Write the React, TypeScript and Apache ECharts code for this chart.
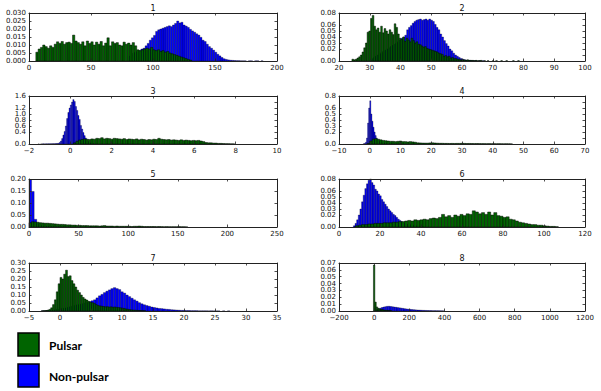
import React, { useEffect, useRef } from "react";
import * as echarts from "echarts";

// ---- panel axes ----
const titles = ["1", "2", "3", "4", "5", "6", "7", "8"];
const xMins = [0, 20, -2, -10, 0, 0, -5, -200];
const xMaxs = [200, 100, 10, 70, 250, 120, 35, 1200];
const xSteps = [50, 10, 2, 10, 50, 20, 5, 200];
const yMaxs = [0.03, 0.08, 1.6, 0.8, 0.2, 0.08, 0.3, 0.07];
const ySteps = [0.005, 0.01, 0.2, 0.1, 0.05, 0.01, 0.05, 0.01];
const yDecimals = [3, 2, 1, 1, 2, 2, 2, 2];

// ---- histograms: [first bin edge, bin width] and bin heights ----
const pulsar1Bins = [5.5, 1.85];
const pulsar1 = [0.0055, 0.0075, 0.0085, 0.01, 0.009, 0.008, 0.0095, 0.0085, 0.0105, 0.012, 0.011, 0.0122, 0.0105, 0.0115, 0.0118, 0.011, 0.0162, 0.0125, 0.0115, 0.0105, 0.012, 0.0095, 0.0125, 0.011, 0.012, 0.01, 0.0118, 0.0105, 0.0122, 0.0095, 0.0112, 0.0145, 0.0095, 0.012, 0.011, 0.0115, 0.01, 0.0095, 0.0118, 0.0105, 0.0112, 0.01, 0.0115, 0.0095, 0.007, 0.0065, 0.007, 0.0075, 0.008, 0.0075, 0.0085, 0.007, 0.0065, 0.007, 0.006, 0.0065, 0.0055, 0.006, 0.005, 0.0045, 0.004, 0.0035, 0.003, 0.0025, 0.002, 0.0015, 0.001, 0.0005];
const nonPulsar1Bins = [80, 1.7];
const nonPulsar1 = [0.003, 0.004, 0.005, 0.0055, 0.006, 0.0065, 0.0075, 0.008, 0.0095, 0.011, 0.013, 0.0145, 0.016, 0.0185, 0.0195, 0.02, 0.0205, 0.021, 0.0215, 0.022, 0.0215, 0.0225, 0.0235, 0.025, 0.0238, 0.0242, 0.0225, 0.0218, 0.021, 0.0198, 0.0188, 0.018, 0.017, 0.0162, 0.0148, 0.013, 0.0122, 0.0105, 0.009, 0.008, 0.0068, 0.0055, 0.0042, 0.0032, 0.0022, 0.0014, 0.001, 0.0007, 0.0005, 0.0004, 0.0003, 0.0002, 0.0002, 0.0001, 0.0001, 0.0001, 0, 0.0001, 0.0001, 0, 0.0001, 0.0001, 0, 0.0001];

const pulsar2Bins = [24.2, 0.55];
const pulsar2 = [0.003, 0.002, 0.003, 0.005, 0.007, 0.01, 0.015, 0.022, 0.03, 0.048, 0.05, 0.071, 0.076, 0.058, 0.052, 0.055, 0.048, 0.058, 0.047, 0.054, 0.05, 0.045, 0.052, 0.048, 0.044, 0.062, 0.056, 0.045, 0.038, 0.036, 0.04, 0.033, 0.038, 0.035, 0.032, 0.038, 0.034, 0.03, 0.032, 0.028, 0.027, 0.025, 0.023, 0.024, 0.021, 0.02, 0.019, 0.018, 0.017, 0.016, 0.015, 0.013, 0.012, 0.011, 0.008, 0.009, 0.007, 0.008, 0.005, 0.006, 0.004, 0.004, 0.003, 0.003, 0.002, 0.002, 0.002, 0.001, 0.002, 0.001, 0.001, 0.001, 0.0005, 0.001, 0.0005, 0.0005, 0.001, 0, 0.0005, 0, 0.0005, 0, 0, 0.0005, 0, 0.0005, 0, 0, 0.0005, 0, 0, 0.0005, 0, 0, 0, 0.0005, 0, 0, 0.0005];
const nonPulsar2Bins = [30, 0.6];
const nonPulsar2 = [0.002, 0.004, 0.006, 0.008, 0.01, 0.012, 0.014, 0.016, 0.018, 0.02, 0.022, 0.024, 0.026, 0.028, 0.03, 0.032, 0.035, 0.038, 0.04, 0.043, 0.052, 0.056, 0.059, 0.063, 0.066, 0.068, 0.069, 0.07, 0.068, 0.069, 0.07, 0.068, 0.07, 0.068, 0.066, 0.061, 0.056, 0.052, 0.045, 0.04, 0.034, 0.029, 0.025, 0.02, 0.017, 0.013, 0.01, 0.008, 0.006, 0.004, 0.003, 0.002, 0.0015, 0.001, 0.001, 0.0005, 0.0005, 0.0005, 0, 0.0005, 0, 0.0005];

const pulsar3Bins = [0.15, 0.12];
const pulsar3 = [0.04, 0.09, 0.13, 0.15, 0.17, 0.16, 0.15, 0.17, 0.16, 0.19, 0.18, 0.21, 0.17, 0.19, 0.18, 0.16, 0.19, 0.18, 0.17, 0.16, 0.18, 0.15, 0.17, 0.16, 0.15, 0.17, 0.14, 0.16, 0.15, 0.13, 0.15, 0.14, 0.16, 0.15, 0.19, 0.16, 0.15, 0.14, 0.15, 0.13, 0.14, 0.13, 0.12, 0.14, 0.12, 0.13, 0.12, 0.11, 0.12, 0.11, 0.12, 0.1, 0.08, 0.05, 0.04, 0.04, 0.03, 0.03, 0.02, 0.02, 0.015, 0.01, 0.01, 0.005, 0.005];
const nonPulsar3Bins = [-1.56, 0.06];
const nonPulsar3 = [0.003, 0, 0.004, 0.003, 0.005, 0.004, 0.006, 0.005, 0.007, 0.006, 0.008, 0.01, 0.01, 0.012, 0.015, 0.018, 0.02, 0.05, 0.1, 0.18, 0.3, 0.42, 0.6, 0.85, 1.05, 1.2, 1.3, 1.4, 1.48, 1.42, 1.25, 1.12, 0.95, 0.82, 0.62, 0.5, 0.38, 0.28, 0.2, 0.13, 0.08, 0.05, 0.03, 0.02, 0.01, 0.01];

const pulsar4Bins = [-0.8, 0.8];
const pulsar4 = [0.01, 0.05, 0.08, 0.09, 0.08, 0.07, 0.06, 0.055, 0.05, 0.045, 0.045, 0.04, 0.045, 0.05, 0.04, 0.04, 0.035, 0.04, 0.035, 0.03, 0.02, 0.018, 0.016, 0.015, 0.015, 0.018, 0.02, 0.017, 0.014, 0.012, 0.012, 0.01, 0.01, 0.009, 0.01, 0.009, 0.01, 0.01, 0.012, 0.01, 0.008, 0.009, 0.008, 0.007, 0.008, 0.007, 0.006, 0.006, 0.005, 0.006, 0.005, 0.005, 0.004, 0.005, 0.004, 0.003, 0.004, 0.003, 0.002];
const nonPulsar4Bins = [-2.1, 0.35];
const nonPulsar4 = [0.005, 0.01, 0.03, 0.1, 0.35, 0.6, 0.72, 0.5, 0.38, 0.28, 0.2, 0.14, 0.1, 0.07, 0.05, 0.035, 0.025, 0.02, 0.015, 0.012, 0.01, 0.008, 0.006, 0.005, 0.004, 0.003, 0.003, 0.002, 0.002, 0.002, 0.001, 0.001, 0.001, 0.001];

const pulsar5Bins = [0, 2.5];
const pulsar5 = [0.018, 0.022, 0.021, 0.02, 0.018, 0.017, 0.016, 0.016, 0.015, 0.014, 0.013, 0.012, 0.011, 0.011, 0.01, 0.009, 0.009, 0.008, 0.008, 0.007, 0.007, 0.006, 0.006, 0.006, 0.005, 0.005, 0.005, 0.005, 0.004, 0.005, 0.006, 0.004, 0.004, 0.004, 0.003, 0.004, 0.003, 0.003, 0.003, 0.003, 0.003, 0.002, 0.003, 0.003, 0.004, 0.003, 0.002, 0.002, 0.002, 0.002, 0.002, 0.0015, 0.002, 0.0015, 0.001, 0.0015, 0.001, 0.001, 0.001, 0.001, 0.0015, 0.001, 0.001, 0.0005];
const nonPulsar5Bins = [0, 2.6];
const nonPulsar5 = [0.198, 0.148, 0.032, 0.012, 0.006, 0.004, 0.003, 0.002, 0.002, 0.0015, 0.001, 0.001, 0.001, 0.0008, 0.0005, 0.0005];

const pulsar6Bins = [8, 1.5];
const pulsar6 = [0.002, 0.003, 0.004, 0.004, 0.005, 0.005, 0.006, 0.006, 0.006, 0.007, 0.007, 0.007, 0.008, 0.008, 0.009, 0.009, 0.01, 0.011, 0.01, 0.012, 0.011, 0.012, 0.013, 0.012, 0.014, 0.015, 0.014, 0.016, 0.021, 0.017, 0.019, 0.016, 0.02, 0.018, 0.021, 0.019, 0.022, 0.021, 0.027, 0.025, 0.022, 0.024, 0.021, 0.025, 0.02, 0.024, 0.019, 0.018, 0.016, 0.017, 0.013, 0.012, 0.01, 0.008, 0.007, 0.006, 0.005, 0.004, 0.004, 0.003, 0.003, 0.002, 0.0015, 0.001, 0.001, 0.0005];
const nonPulsar6Bins = [7, 0.8];
const nonPulsar6 = [0.002, 0.006, 0.012, 0.02, 0.03, 0.042, 0.053, 0.064, 0.072, 0.078, 0.08, 0.074, 0.07, 0.063, 0.06, 0.055, 0.052, 0.046, 0.042, 0.038, 0.034, 0.03, 0.027, 0.024, 0.021, 0.019, 0.016, 0.013, 0.011, 0.009, 0.008, 0.006, 0.005, 0.004, 0.004, 0.003, 0.003, 0.002, 0.002, 0.002, 0.001, 0.001, 0.001];

const pulsar7Bins = [-3, 0.3];
const pulsar7 = [0.001, 0.002, 0.003, 0.005, 0.01, 0.02, 0.04, 0.07, 0.12, 0.17, 0.21, 0.2, 0.23, 0.255, 0.215, 0.22, 0.19, 0.17, 0.15, 0.13, 0.115, 0.1, 0.085, 0.075, 0.068, 0.06, 0.056, 0.052, 0.048, 0.04, 0.035, 0.032, 0.03, 0.028, 0.026, 0.027, 0.025, 0.026, 0.024, 0.025, 0.023, 0.022, 0.02, 0.018, 0.016, 0.013, 0.011, 0.009, 0.007, 0.006, 0.005, 0.004, 0.003, 0.003, 0.002, 0.002];
const nonPulsar7Bins = [-3, 0.4];
const nonPulsar7 = [0.001, 0.001, 0.002, 0.003, 0.005, 0.007, 0.01, 0.013, 0.016, 0.019, 0.022, 0.026, 0.03, 0.034, 0.038, 0.042, 0.046, 0.05, 0.054, 0.058, 0.064, 0.07, 0.082, 0.095, 0.104, 0.115, 0.124, 0.132, 0.14, 0.146, 0.14, 0.134, 0.12, 0.112, 0.1, 0.09, 0.08, 0.07, 0.062, 0.052, 0.045, 0.039, 0.034, 0.03, 0.025, 0.022, 0.019, 0.016, 0.015, 0.013, 0.011, 0.01, 0.008, 0.007, 0.006, 0.005, 0.004, 0.004, 0.003, 0.003, 0.002, 0.002, 0.002, 0.001, 0.001, 0.001, 0.001, 0.0005, 0.001, 0.0005, 0.0005, 0.0005, 0, 0.0005, 0, 0.0005];

const pulsar8Bins = [-4, 8];
const pulsar8 = [0.067, 0.013, 0.006, 0.004, 0.003, 0.0025, 0.002, 0.0015, 0.001, 0.001, 0.0008, 0.0005, 0.0004];
const nonPulsar8Bins = [0, 10];
const nonPulsar8 = [0.001, 0.002, 0.003, 0.004, 0.005, 0.0058, 0.0063, 0.0068, 0.0069, 0.0066, 0.0062, 0.0058, 0.0054, 0.005, 0.0046, 0.0042, 0.0038, 0.0034, 0.003, 0.0027, 0.0024, 0.0021, 0.0019, 0.0017, 0.0015, 0.0013, 0.0012, 0.001, 0.0009, 0.0008, 0.0007, 0.0006, 0.0006, 0.0005, 0.0005, 0.0004, 0.0004, 0.0003, 0.0003, 0.0002];

const pulsarSets = [pulsar1, pulsar2, pulsar3, pulsar4, pulsar5, pulsar6, pulsar7, pulsar8];
const pulsarBinSets = [pulsar1Bins, pulsar2Bins, pulsar3Bins, pulsar4Bins, pulsar5Bins, pulsar6Bins, pulsar7Bins, pulsar8Bins];
const nonPulsarSets = [nonPulsar1, nonPulsar2, nonPulsar3, nonPulsar4, nonPulsar5, nonPulsar6, nonPulsar7, nonPulsar8];
const nonPulsarBinSets = [nonPulsar1Bins, nonPulsar2Bins, nonPulsar3Bins, nonPulsar4Bins, nonPulsar5Bins, nonPulsar6Bins, nonPulsar7Bins, nonPulsar8Bins];

const legendNames = ["Pulsar", "Non-pulsar"];

const GREEN = "#006400";
const BLUE = "#0000ff";

function toBins(values: number[], bins: number[]) {
  const [start, step] = bins;
  const out: number[][] = [];
  values.forEach((v, i) => {
    if (v > 0) out.push([start + i * step, start + (i + 1) * step, v]);
  });
  return out;
}

function fmtX(v: number) {
  return v < 0 ? "\u2212" + Math.abs(v) : String(v);
}

export default function App() {
  const ref = useRef<HTMLDivElement>(null);
  useEffect(() => {
    if (!ref.current) return;
    const chart = echarts.init(ref.current, null, { renderer: "svg" });
    const lefts = [29, 339];
    const widths = [248, 246];
    const tops = [13, 96, 179, 263];
    const H = 48;
    const grids: any[] = [];
    const xAxes: any[] = [];
    const yAxes: any[] = [];
    const series: any[] = [];
    const graphics: any[] = [];
    const font = "DejaVu Sans";
    const lineStyle = { color: "#222", width: 1 };
    for (let k = 0; k < 8; k++) {
      const col = k % 2;
      const row = Math.floor(k / 2);
      grids.push({ left: lefts[col], top: tops[row], width: widths[col], height: H, show: false });
      const xBase = {
        gridIndex: k,
        type: "value",
        min: xMins[k],
        max: xMaxs[k],
        interval: xSteps[k],
        z: 5,
        splitLine: { show: false },
        axisLine: { show: true, onZero: false, lineStyle },
        axisTick: { show: true, inside: true, length: 2.5, lineStyle: { color: "#222", width: 0.8 } },
      };
      xAxes.push({
        ...xBase,
        position: "bottom",
        axisLabel: { show: true, margin: 3, fontSize: 7, fontFamily: font, color: "#111", formatter: fmtX, showMinLabel: true, showMaxLabel: true },
      });
      xAxes.push({ ...xBase, position: "top", axisLabel: { show: false } });
      const yBase = {
        gridIndex: k,
        type: "value",
        min: 0,
        max: yMaxs[k],
        interval: ySteps[k],
        z: 5,
        splitLine: { show: false },
        axisLine: { show: true, onZero: false, lineStyle },
        axisTick: { show: true, inside: true, length: 2.5, lineStyle: { color: "#222", width: 0.8 } },
      };
      const dec = yDecimals[k];
      yAxes.push({
        ...yBase,
        position: "left",
        axisLabel: { show: true, margin: 3, fontSize: 7, fontFamily: font, color: "#111", formatter: (v: number) => v.toFixed(dec), showMinLabel: true, showMaxLabel: true },
      });
      yAxes.push({ ...yBase, position: "right", axisLabel: { show: false } });

      const mk = (name: string, data: number[][], color: string, z: number, lw: number) => ({
        type: "custom",
        name,
        xAxisIndex: 2 * k,
        yAxisIndex: 2 * k,
        z,
        encode: { x: [0, 1], y: 2 },
        data,
        renderItem: (params: any, api: any) => {
          const p0 = api.coord([api.value(0), api.value(2)]);
          const p1 = api.coord([api.value(1), 0]);
          return {
            type: "rect",
            shape: { x: p0[0], y: p0[1], width: p1[0] - p0[0], height: p1[1] - p0[1] },
            style: { fill: color, stroke: "#000", lineWidth: lw },
          };
        },
      });
      series.push(mk(legendNames[1], toBins(nonPulsarSets[k], nonPulsarBinSets[k]), BLUE, 2, 0.3));
      series.push(mk(legendNames[0], toBins(pulsarSets[k], pulsarBinSets[k]), GREEN, 3, 0.45));

      graphics.push({
        type: "text",
        x: lefts[col] + widths[col] / 2,
        y: tops[row] - 5,
        style: { text: titles[k], fontSize: 8, fontFamily: font, fill: "#111", align: "center", verticalAlign: "middle" },
      });
    }
    const legendColors = [GREEN, BLUE];
    const legendTops = [333, 364];
    legendNames.forEach((name, i) => {
      graphics.push({
        type: "rect",
        shape: { x: 18, y: legendTops[i], width: 21, height: 23 },
        style: { fill: legendColors[i], stroke: "#000", lineWidth: 1.5 },
      });
      graphics.push({
        type: "text",
        x: 49,
        y: legendTops[i] + 12,
        style: { text: name, fontSize: 12, fontWeight: "bold", fontFamily: "Lato", fill: "#000", align: "left", verticalAlign: "middle" },
      });
    });

    chart.setOption({
      animation: false,
      backgroundColor: "#fff",
      grid: grids,
      xAxis: xAxes,
      yAxis: yAxes,
      series,
      graphic: graphics,
    });
    return () => chart.dispose();
  }, []);
  return <div ref={ref} style={{ position: "fixed", left: 0, top: 0, width: 601, height: 391 }} />;
}
